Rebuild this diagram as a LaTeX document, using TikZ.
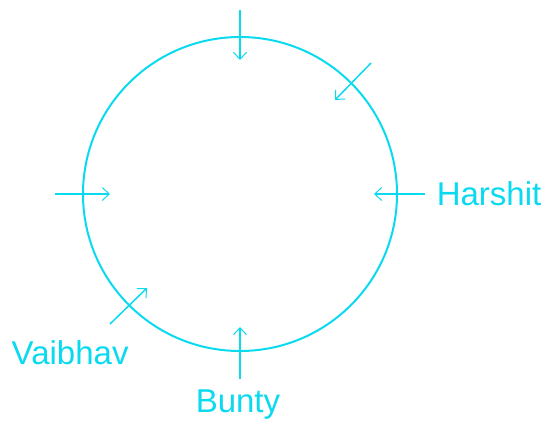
\documentclass[tikz,border=0pt]{standalone}
\usepackage{fontspec}
\setmainfont{Liberation Sans}
\usetikzlibrary{arrows.meta}
\definecolor{seat}{RGB}{10,218,240}
\begin{document}
\begin{tikzpicture}[x=1pt,y=-1pt,seat,line width=1.5pt,
    every node/.style={font=\fontsize{33}{38}\selectfont, text=seat, inner sep=0pt},
    pointer/.style={-{Straight Barb[length=7pt,width=13pt,line width=1pt]}}]
  \useasboundingbox (0,0) rectangle (547,421);
  \draw[line width=2pt] (240,194) circle (157);
  % names
  \node[anchor=west] (harshit) at (436,194) {Harshit};
  \node[anchor=west] (vaibhav) at (11,353) {Vaibhav};
  \node[anchor=west] (bunty) at (195,405) {Bunty};
  % arrow ends
  \coordinate (ts) at (240,10);   \coordinate (te) at (240,60);
  \coordinate (ns) at (371,63);   \coordinate (ne) at (335,100);
  \coordinate (hs) at (425,194);  \coordinate (he) at (374,194);
  \coordinate (ls) at (55,194);   \coordinate (le) at (110,194);
  \coordinate (vs) at (110,324);  \coordinate (ve) at (147,288);
  \coordinate (bs) at (240,379);  \coordinate (be) at (240,327);
  \draw[pointer] (ts) -- (te);
  \draw[pointer] (ns) -- (ne);
  \draw[pointer] (hs) -- (he);
  \draw[pointer] (ls) -- (le);
  \draw[pointer] (vs) -- (ve);
  \draw[pointer] (bs) -- (be);
\end{tikzpicture}
\end{document}
